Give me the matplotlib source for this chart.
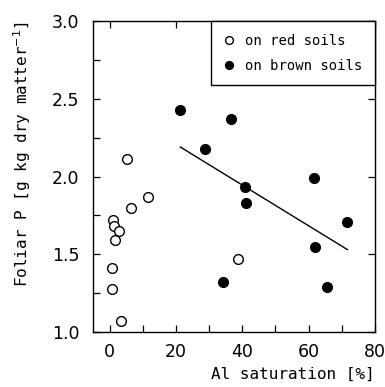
import matplotlib
matplotlib.use("Agg")
import matplotlib.pyplot as plt
from matplotlib.ticker import MultipleLocator, FormatStrFormatter

red_x = [5.3, 11.6, 6.3, 1.0, 1.3, 2.7, 1.6, 0.8, 0.7, 3.5, 38.8]
red_y = [2.11, 1.87, 1.80, 1.72, 1.685, 1.65, 1.595, 1.415, 1.28, 1.07, 1.47]
brown_x = [21.3, 36.5, 28.9, 40.7, 41.2, 61.7, 71.5, 61.8, 34.2, 65.5]
brown_y = [2.43, 2.37, 2.18, 1.93, 1.83, 1.99, 1.71, 1.55, 1.325, 1.29]
fit_x = [21.3, 71.7]
fit_y = [2.19, 1.53]

plt.rcParams['font.family'] = ['DejaVu Sans']
mono = 'DejaVu Sans Mono'
fig = plt.figure(figsize=(3.85, 3.87), dpi=100)
ax = fig.add_axes([0.2416, 0.142, 0.7324, 0.8037])

ax.plot(red_x, red_y, 'o', mfc='white', mec='black', mew=1.0, ms=7, label='on red soils')
ax.plot(brown_x, brown_y, 'o', mfc='black', mec='black', ms=7, label='on brown soils')
ax.plot(fit_x, fit_y, '-', color='black', lw=1.0)

ax.set_xlim(-5, 80)
ax.set_ylim(1.0, 3.0)
ax.xaxis.set_major_locator(MultipleLocator(20))
ax.xaxis.set_minor_locator(MultipleLocator(10))
ax.yaxis.set_major_locator(MultipleLocator(0.5))
ax.yaxis.set_minor_locator(MultipleLocator(0.25))
ax.yaxis.set_major_formatter(FormatStrFormatter('%.1f'))
ax.tick_params(which='both', direction='in', top=True, right=True, labelsize=12.5, length=5, width=0.9)
ax.tick_params(which='minor', top=False, right=False, length=5)
ax.tick_params(axis='x', pad=8)
ax.tick_params(axis='y', pad=10)
for s in ax.spines.values():
    s.set_linewidth(1.0)

ax.set_ylabel('Foliar P [g kg dry matter$^{-1}$]', fontsize=11.5, family=mono)
ax.yaxis.set_label_coords(-0.213, 0.574)
ax.set_xlabel('Al saturation [%]', fontsize=11.5, family=mono, loc='right')
ax.xaxis.set_label_coords(1.0, -0.113)

leg = ax.legend(loc='upper right', borderaxespad=0, fancybox=False, edgecolor='black',
                framealpha=1, prop={'family': mono, 'size': 10}, handletextpad=0.7,
                borderpad=0.9, handlelength=0.9, labelspacing=0.8, markerscale=0.8)
leg.get_frame().set_linewidth(1.0)

fig.savefig('out.png', dpi=100)
